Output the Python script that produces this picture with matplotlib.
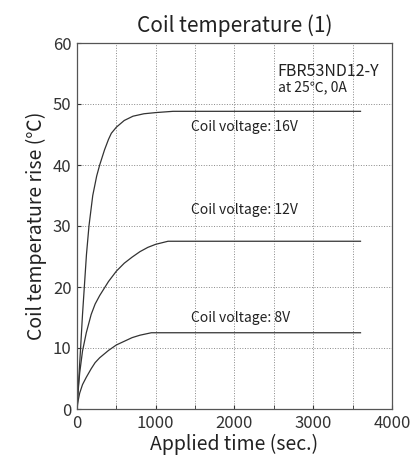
import matplotlib
matplotlib.use("Agg")
import matplotlib.pyplot as plt

plt.rcParams['font.family'] = ['Noto Sans CJK JP', 'DejaVu Sans']

# readings (seconds, deg C rise)
t_16v = [0, 17, 47, 70, 93, 120, 152, 200, 250, 288, 350, 400, 436, 500, 600, 711, 850, 1007, 1220, 3600]
rise_16v = [0, 3.7, 10.3, 15.5, 20.0, 25.3, 30.0, 35.0, 38.2, 40.0, 42.5, 44.2, 45.2, 46.2, 47.3, 48.0, 48.4, 48.6, 48.8, 48.8]

t_12v = [0, 15, 34, 70, 118, 180, 230, 288, 400, 500, 600, 700, 800, 900, 1000, 1156, 3600]
rise_12v = [0, 3.0, 5.9, 9.5, 12.5, 15.5, 17.2, 18.6, 20.9, 22.6, 23.9, 24.9, 25.8, 26.5, 27.0, 27.5, 27.5]

t_8v = [0, 15, 34, 70, 118, 180, 230, 288, 400, 500, 600, 700, 800, 944, 3600]
rise_8v = [0, 1.4, 2.6, 4.0, 5.2, 6.6, 7.6, 8.4, 9.6, 10.5, 11.1, 11.7, 12.1, 12.5, 12.5]

labels = ["Coil voltage: 16V", "Coil voltage: 12V", "Coil voltage: 8V"]
label_y = [46.3, 32.6, 14.9]

fig = plt.figure(figsize=(4.17, 4.75), dpi=100)
ax = fig.add_axes([77/417, 66/475, 315/417, 366/475])

for t, r in [(t_16v, rise_16v), (t_12v, rise_12v), (t_8v, rise_8v)]:
    ax.plot(t, r, color='#333333', lw=0.9)

for lab, y in zip(labels, label_y):
    ax.text(1450, y, lab, fontsize=10, va='center', ha='left', color='#222222')

ax.text(2550, 55.4, "FBR53ND12-Y", fontsize=11.5, va='center', color='#222222')
ax.text(2550, 52.8, "at 25℃, 0A", fontsize=10, va='center', color='#222222')

ax.set_xlim(0, 4000)
ax.set_ylim(0, 60)
ax.set_xticks([0, 1000, 2000, 3000, 4000])
ax.set_yticks(range(0, 61, 10))
ax.set_xticks(range(0, 4001, 500), minor=True)
ax.grid(True, which='both', axis='x', ls=':', lw=0.7, color='#888888')
ax.grid(True, which='major', axis='y', ls=':', lw=0.7, color='#888888')
ax.tick_params(which='both', direction='in', length=3, labelsize=12, colors='#333333', pad=4)
for s in ax.spines.values():
    s.set_color('#555555')
    s.set_linewidth(0.9)

ax.set_xlabel("Applied time (sec.)", fontsize=14, color='#222222', labelpad=2)
ax.set_ylabel("Coil temperature rise (℃)", fontsize=14, color='#222222', labelpad=4)
ax.set_title("Coil temperature (1)", fontsize=15, color='#222222', pad=8)

fig.savefig("out.png", dpi=100)
